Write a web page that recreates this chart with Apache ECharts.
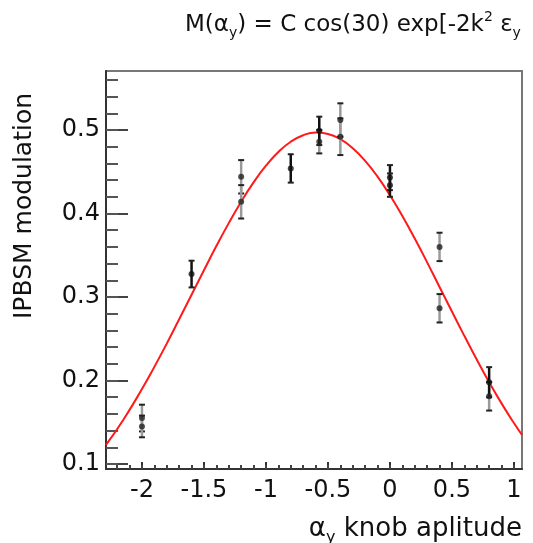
<!DOCTYPE html>
<html><head><meta charset="utf-8">
<script src="https://cdn.jsdelivr.net/npm/echarts@6/dist/echarts.min.js"></script>
<style>html,body{margin:0;padding:0;background:#fff}#c{width:533px;height:543px}</style>
</head><body><div id="c"></div>
<script>
// ---- data ----
const xMajorTicks = [-2, -1.5, -1, -0.5, 0, 0.5, 1];
const yMajorTicks = [0.1, 0.2, 0.3, 0.4, 0.5];

// run A (dark error bars)
const darkX   = [-1.6, -0.8, 0, 0, 0.8, -0.57];
const darkY   = [0.3275, 0.454, 0.443, 0.434, 0.198, 0.499];
const darkErr = [0.016, 0.017, 0.015, 0.014, 0.018, 0.017];
// run B (grey error bars)
const greyX   = [-2, -2, -1.2, -1.2, -0.57, -0.4, -0.4, 0.4, 0.4, 0.8];
const greyY   = [0.155, 0.145, 0.444, 0.414, 0.486, 0.512, 0.492, 0.36, 0.2865, 0.181];
const greyErr = [0.016, 0.013, 0.02, 0.02, 0.014, 0.02, 0.022, 0.017, 0.017, 0.017];

// fitted curve
const curveX = [-2.29, -2.15, -2.0, -1.9, -1.8, -1.7, -1.6, -1.5, -1.4, -1.3, -1.2, -1.1, -1.0, -0.9, -0.8, -0.7, -0.6, -0.5, -0.4, -0.3, -0.2, -0.1, 0, 0.1, 0.2, 0.3, 0.4, 0.5, 0.6, 0.7, 0.8, 0.9, 1.0, 1.065];
const curveY = [0.1228, 0.153, 0.1897, 0.2163, 0.2442, 0.2733, 0.3027, 0.3321, 0.361, 0.3885, 0.4142, 0.4373, 0.4573, 0.4737, 0.486, 0.4938, 0.497, 0.4953, 0.489, 0.4781, 0.463, 0.4441, 0.4219, 0.397, 0.370, 0.3415, 0.312, 0.2826, 0.2535, 0.2251, 0.198, 0.1726, 0.149, 0.1347];

const xMin = -2.29, xMax = 1.065, yMin = 0.094, yMax = 0.5707;

// minor tick positions
const xMinorTicks = [];
for (let i = -22; i <= 10; i++) xMinorTicks.push(+(i / 10).toFixed(1));
const yMinorTicks = [];
for (let i = 5; i <= 28; i++) yMinorTicks.push(+(i * 0.02).toFixed(2));

const FONT = 'DejaVu Sans';
const chart = echarts.init(document.getElementById('c'), null, {renderer: 'canvas'});

function errItem(barColor) {
  return function (params, api) {
    const x = api.value(0), y = api.value(1), e = api.value(2);
    const t = api.coord([x, y + e]), b = api.coord([x, y - e]);
    const cw = 3;
    return {type: 'group', children: [
      {type: 'line', shape: {x1: t[0], y1: t[1], x2: b[0], y2: b[1]}, style: {stroke: barColor, lineWidth: 2.5}},
      {type: 'line', shape: {x1: t[0] - cw, y1: t[1], x2: t[0] + cw, y2: t[1]}, style: {stroke: '#222', lineWidth: 2}},
      {type: 'line', shape: {x1: b[0] - cw, y1: b[1], x2: b[0] + cw, y2: b[1]}, style: {stroke: '#222', lineWidth: 2}}
    ]};
  };
}

const option = {
  backgroundColor: '#ffffff',
  animation: false,
  grid: {left: 106, right: 11, top: 71, bottom: 74, show: true, borderColor: '#777', borderWidth: 2, containLabel: false},
  xAxis: [
    {type: 'value', min: xMin, max: xMax, position: 'bottom', offset: 0,
     axisLine: {show: true, onZero: false, lineStyle: {color: '#333', width: 2}},
     axisTick: {show: true, inside: true, length: 7, customValues: xMajorTicks, lineStyle: {color: '#333', width: 2}},
     axisLabel: {show: true, customValues: xMajorTicks, fontFamily: FONT, fontSize: 24, color: '#111', margin: 10},
     splitLine: {show: false}},
    {type: 'value', min: xMin, max: xMax, position: 'bottom', offset: 0,
     axisLine: {show: false, onZero: false},
     axisTick: {show: true, inside: true, length: 4, customValues: xMinorTicks, lineStyle: {color: '#444', width: 2}},
     axisLabel: {show: false}, splitLine: {show: false}}
  ],
  yAxis: [
    {type: 'value', min: yMin, max: yMax, position: 'left', offset: 0,
     axisLine: {show: true, onZero: false, lineStyle: {color: '#333', width: 2}},
     axisTick: {show: true, inside: true, length: 22, customValues: yMajorTicks, lineStyle: {color: '#444', width: 2}},
     axisLabel: {show: true, customValues: yMajorTicks, fontFamily: FONT, fontSize: 24, color: '#111', margin: 6},
     splitLine: {show: false}},
    {type: 'value', min: yMin, max: yMax, position: 'left', offset: 0,
     axisLine: {show: false, onZero: false},
     axisTick: {show: true, inside: true, length: 12, customValues: yMinorTicks, lineStyle: {color: '#555', width: 2}},
     axisLabel: {show: false}, splitLine: {show: false}}
  ],
  series: [
    {type: 'line', name: 'fit', xAxisIndex: 0, yAxisIndex: 0, smooth: true, showSymbol: false, symbol: 'none',
     lineStyle: {color: '#ff1a1a', width: 2}, z: 3,
     data: curveX.map((x, i) => [x, curveY[i]])},
    {type: 'custom', name: 'runB', xAxisIndex: 0, yAxisIndex: 0, renderItem: errItem('#9a9a9a'), z: 4,
     encode: {x: 0, y: 1}, data: greyX.map((x, i) => [x, greyY[i], greyErr[i]])},
    {type: 'custom', name: 'runA', xAxisIndex: 0, yAxisIndex: 0, renderItem: errItem('#111'), z: 4,
     encode: {x: 0, y: 1}, data: darkX.map((x, i) => [x, darkY[i], darkErr[i]])},
    {type: 'scatter', xAxisIndex: 0, yAxisIndex: 0, symbol: 'circle', symbolSize: 6, z: 5,
     itemStyle: {color: '#222'}, data: greyX.map((x, i) => [x, greyY[i]])},
    {type: 'scatter', xAxisIndex: 0, yAxisIndex: 0, symbol: 'circle', symbolSize: 6, z: 5,
     itemStyle: {color: '#111'}, data: darkX.map((x, i) => [x, darkY[i]])}
  ],
  graphic: [
    {type: 'text', x: 185, y: 10, z: 10,
     style: {text: '{a|M(α}{s|y}{a|) = C cos(30) exp[-2k}{p|2}{a| ε}{s|y}', fill: '#111',
       rich: {
         a: {fontFamily: FONT, fontSize: 23, lineHeight: 30, verticalAlign: 'middle', fill: '#111'},
         s: {fontFamily: FONT, fontSize: 14, lineHeight: 30, verticalAlign: 'bottom', fill: '#111'},
         p: {fontFamily: FONT, fontSize: 14, lineHeight: 30, verticalAlign: 'top', fill: '#111'}
       }}},
    {type: 'text', x: 522, y: 512, z: 10,
     style: {text: '{a|α}{s|y}{a| knob aplitude}', align: 'right', fill: '#111',
       rich: {
         a: {fontFamily: FONT, fontSize: 26, lineHeight: 30, verticalAlign: 'middle', fill: '#111'},
         s: {fontFamily: FONT, fontSize: 16, lineHeight: 34, verticalAlign: 'bottom', fill: '#111'}
       }}},
    {type: 'text', x: 24, y: 319, rotation: Math.PI / 2, z: 10,
     style: {text: 'IPBSM modulation', fontFamily: FONT, fontSize: 25, fill: '#111', align: 'left', verticalAlign: 'middle'}}
  ]
};
chart.setOption(option);
</script>
</body></html>
